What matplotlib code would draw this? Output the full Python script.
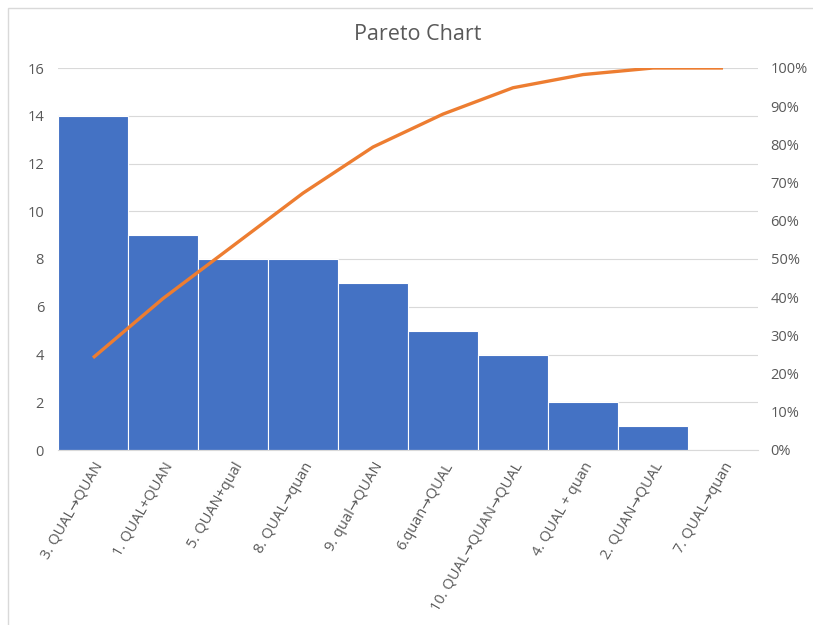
import matplotlib
matplotlib.use("Agg")
import matplotlib.pyplot as plt
from matplotlib.patches import Rectangle
import numpy as np

categories = ["3. QUAL\u2192QUAN", "1. QUAL+QUAN", "5. QUAN+qual", "8. QUAL\u2192quan",
              "9. qual\u2192QUAN", "6.quan\u2192QUAL", "10. QUAL\u2192QUAN\u2192QUAL",
              "4. QUAL + quan", "2. QUAN\u2192QUAL", "7. QUAL\u2192quan"]
counts = [14, 9, 8, 8, 7, 5, 4, 2, 1, 0]
left_ticks = [0, 2, 4, 6, 8, 10, 12, 14, 16]
right_ticks = [0, 10, 20, 30, 40, 50, 60, 70, 80, 90, 100]

plt.rcParams['font.family'] = ['Open Sans', 'DejaVu Sans']
txt = '#595959'

fig = plt.figure(figsize=(8.13, 6.25), dpi=100)
fig.patches.append(Rectangle((8/813, -0.01), 1.05, 1 - 8/625 + 0.01, transform=fig.transFigure,
                             fill=False, edgecolor='#d9d9d9', linewidth=1))
ax = fig.add_axes([58/813, 1 - 450/625, 700/813, 382/625])
x = np.arange(len(categories))
ax.bar(x, counts, width=1.0, color='#4472C4', edgecolor='white', linewidth=0.8, zorder=2)
ax.set_xlim(-0.5, len(categories) - 0.5)
ax.set_ylim(0, 16)
ax.set_yticks(left_ticks)
ax.grid(axis='y', color='#d9d9d9', linewidth=0.8, zorder=0)
ax.set_axisbelow(True)
for s in ['top', 'right', 'left']:
    ax.spines[s].set_visible(False)
ax.spines['bottom'].set_color('#d9d9d9')
ax.tick_params(axis='both', length=0, colors=txt, labelsize=10.5)
ax.tick_params(axis='y', pad=10)
ax.set_xticks(x)
ax.set_xticklabels(categories, rotation=60, ha='right', rotation_mode='anchor')
ax.tick_params(axis='x', pad=7)

ax2 = ax.twinx()
cum = np.cumsum(counts) / np.sum(counts) * 100
ax2.plot(x, cum, color='#ED7D31', linewidth=2.4, solid_capstyle='butt', zorder=3)
ax2.set_ylim(0, 100)
ax2.set_yticks(right_ticks)
ax2.set_yticklabels([f"{t}%" for t in right_ticks])
for s in ['top', 'right', 'left', 'bottom']:
    ax2.spines[s].set_visible(False)
ax2.tick_params(axis='y', length=0, colors=txt, labelsize=10.5, pad=9)

fig.text(418/813, 1 - 34/625, "Pareto Chart", ha='center', va='center', fontsize=15.5, color=txt)
fig.savefig('out.png', dpi=100)
